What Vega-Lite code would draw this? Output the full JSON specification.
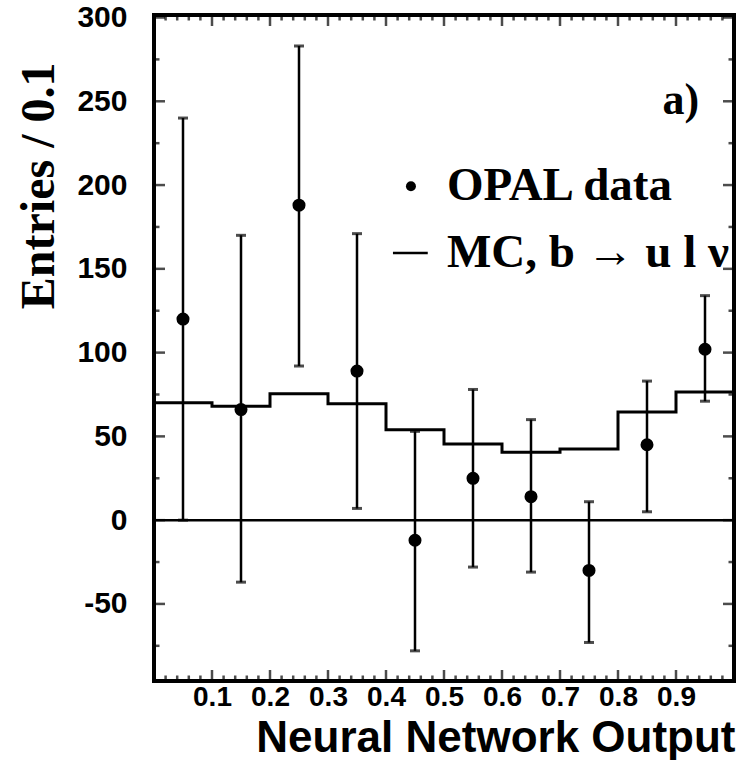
{
  "$schema": "https://vega.github.io/schema/vega-lite/v6.json",
  "width": 580,
  "height": 666,
  "autosize": {"type": "none"},
  "padding": {"left": 154, "top": 15, "right": 12, "bottom": 79},
  "background": "white",
  "config": {
    "view": {"stroke": "black", "strokeWidth": 4},
    "axis": {"domain": false, "grid": false, "ticks": false, "tickSize": 0, "labelColor": "black", "titleColor": "black"}
  },
  "datasets": {
    "mc": [
      {"nn": 0.0, "entries": 70},
      {"nn": 0.1, "entries": 68},
      {"nn": 0.2, "entries": 75.5},
      {"nn": 0.3, "entries": 69.5},
      {"nn": 0.4, "entries": 54},
      {"nn": 0.5, "entries": 45.5},
      {"nn": 0.6, "entries": 40.5},
      {"nn": 0.7, "entries": 42.5},
      {"nn": 0.8, "entries": 64.5},
      {"nn": 0.9, "entries": 76.5},
      {"nn": 1.0, "entries": 76.5}
    ],
    "pts": [
      {"nn": 0.05, "entries": 120, "lo": 0, "hi": 240},
      {"nn": 0.15, "entries": 66, "lo": -37, "hi": 170},
      {"nn": 0.25, "entries": 188, "lo": 92, "hi": 283},
      {"nn": 0.35, "entries": 89, "lo": 7, "hi": 171},
      {"nn": 0.45, "entries": -12, "lo": -78, "hi": 53},
      {"nn": 0.55, "entries": 25, "lo": -28, "hi": 78},
      {"nn": 0.65, "entries": 14, "lo": -31, "hi": 60},
      {"nn": 0.75, "entries": -30, "lo": -73, "hi": 11},
      {"nn": 0.85, "entries": 45, "lo": 5, "hi": 83},
      {"nn": 0.95, "entries": 102, "lo": 71, "hi": 134}
    ],
    "xt": [
      {"v": 0.02, "kind": "minor"}, {"v": 0.04, "kind": "minor"}, {"v": 0.06, "kind": "minor"}, {"v": 0.08, "kind": "minor"}, {"v": 0.1, "kind": "major"},
      {"v": 0.12, "kind": "minor"}, {"v": 0.14, "kind": "minor"}, {"v": 0.16, "kind": "minor"}, {"v": 0.18, "kind": "minor"}, {"v": 0.2, "kind": "major"},
      {"v": 0.22, "kind": "minor"}, {"v": 0.24, "kind": "minor"}, {"v": 0.26, "kind": "minor"}, {"v": 0.28, "kind": "minor"}, {"v": 0.3, "kind": "major"},
      {"v": 0.32, "kind": "minor"}, {"v": 0.34, "kind": "minor"}, {"v": 0.36, "kind": "minor"}, {"v": 0.38, "kind": "minor"}, {"v": 0.4, "kind": "major"},
      {"v": 0.42, "kind": "minor"}, {"v": 0.44, "kind": "minor"}, {"v": 0.46, "kind": "minor"}, {"v": 0.48, "kind": "minor"}, {"v": 0.5, "kind": "major"},
      {"v": 0.52, "kind": "minor"}, {"v": 0.54, "kind": "minor"}, {"v": 0.56, "kind": "minor"}, {"v": 0.58, "kind": "minor"}, {"v": 0.6, "kind": "major"},
      {"v": 0.62, "kind": "minor"}, {"v": 0.64, "kind": "minor"}, {"v": 0.66, "kind": "minor"}, {"v": 0.68, "kind": "minor"}, {"v": 0.7, "kind": "major"},
      {"v": 0.72, "kind": "minor"}, {"v": 0.74, "kind": "minor"}, {"v": 0.76, "kind": "minor"}, {"v": 0.78, "kind": "minor"}, {"v": 0.8, "kind": "major"},
      {"v": 0.82, "kind": "minor"}, {"v": 0.84, "kind": "minor"}, {"v": 0.86, "kind": "minor"}, {"v": 0.88, "kind": "minor"}, {"v": 0.9, "kind": "major"},
      {"v": 0.92, "kind": "minor"}, {"v": 0.94, "kind": "minor"}, {"v": 0.96, "kind": "minor"}, {"v": 0.98, "kind": "minor"}
    ],
    "yt": [
      {"v": -75, "kind": "minor"}, {"v": -50, "kind": "major"}, {"v": -25, "kind": "minor"}, {"v": 0, "kind": "major"},
      {"v": 25, "kind": "minor"}, {"v": 50, "kind": "major"}, {"v": 75, "kind": "minor"}, {"v": 100, "kind": "major"},
      {"v": 125, "kind": "minor"}, {"v": 150, "kind": "major"}, {"v": 175, "kind": "minor"}, {"v": 200, "kind": "major"},
      {"v": 225, "kind": "minor"}, {"v": 250, "kind": "major"}, {"v": 275, "kind": "minor"}, {"v": 300, "kind": "major"}
    ]
  },
  "layer": [
    {
      "data": {"name": "mc"},
      "mark": {"type": "line", "interpolate": "step-after", "color": "black", "strokeWidth": 3},
      "encoding": {
        "x": {
          "field": "nn", "type": "quantitative",
          "scale": {"domain": [0, 1], "nice": false, "zero": false},
          "axis": {
            "orient": "bottom",
            "values": [0.1,0.2,0.3,0.4,0.5,0.6,0.7,0.8,0.9],
            "format": ".1f",
            "labelFont": "Liberation Sans", "labelFontWeight": "bold", "labelFontSize": 28,
            "labelPadding": 2, "labelBaseline": "top", "labelFlush": false, "labelOverlap": false,
            "title": "Neural Network Output",
            "titleFont": "Liberation Sans", "titleFontWeight": "bold", "titleFontSize": 44,
            "titleAnchor": "end", "titleAlign": "right", "titleX": 581, "titleY": 70, "titleBaseline": "alphabetic"
          }
        },
        "y": {
          "field": "entries", "type": "quantitative",
          "scale": {"domain": [-96, 301.5], "nice": false, "zero": false},
          "axis": {
            "orient": "left",
            "values": [-50,0,50,100,150,200,250,300],
            "labelExpr": "replace(datum.label, '\u2212', '-')",
            "labelFont": "Liberation Sans", "labelFontWeight": "bold", "labelFontSize": 30,
            "labelPadding": 27, "labelFlush": false, "labelOverlap": false,
            "title": "Entries / 0.1",
            "titleFont": "Liberation Serif", "titleFontWeight": "bold", "titleFontSize": 48,
            "titleAngle": 270, "titleAlign": "right", "titleBaseline": "alphabetic", "titleX": -101, "titleY": 47
          }
        }
      }
    },
    {
      "data": {"name": "xt"},
      "mark": {"type": "tick", "orient": "vertical", "color": "black", "thickness": 2.5, "clip": true},
      "encoding": {
        "x": {"field": "v", "type": "quantitative", "scale": {"domain": [0, 1], "nice": false, "zero": false}},
        "y": {"datum": -96, "type": "quantitative", "scale": {"domain": [-96, 301.5], "nice": false, "zero": false}},
        "size": {"field": "kind", "type": "nominal", "scale": {"domain": ["major", "minor"], "range": [22, 11]}, "legend": null}
      }
    },
    {
      "data": {"name": "xt"},
      "mark": {"type": "tick", "orient": "vertical", "color": "black", "thickness": 2.5, "clip": true},
      "encoding": {
        "x": {"field": "v", "type": "quantitative", "scale": {"domain": [0, 1], "nice": false, "zero": false}},
        "y": {"datum": 301.5, "type": "quantitative", "scale": {"domain": [-96, 301.5], "nice": false, "zero": false}},
        "size": {"field": "kind", "type": "nominal", "scale": {"domain": ["major", "minor"], "range": [22, 11]}, "legend": null}
      }
    },
    {
      "data": {"name": "yt"},
      "mark": {"type": "tick", "orient": "horizontal", "color": "black", "thickness": 2.5, "clip": true},
      "encoding": {
        "y": {"field": "v", "type": "quantitative", "scale": {"domain": [-96, 301.5], "nice": false, "zero": false}},
        "x": {"datum": 0, "type": "quantitative", "scale": {"domain": [0, 1], "nice": false, "zero": false}},
        "size": {"field": "kind", "type": "nominal", "scale": {"domain": ["major", "minor"], "range": [22, 11]}, "legend": null}
      }
    },
    {
      "data": {"name": "yt"},
      "mark": {"type": "tick", "orient": "horizontal", "color": "black", "thickness": 2.5, "clip": true},
      "encoding": {
        "y": {"field": "v", "type": "quantitative", "scale": {"domain": [-96, 301.5], "nice": false, "zero": false}},
        "x": {"datum": 1, "type": "quantitative", "scale": {"domain": [0, 1], "nice": false, "zero": false}},
        "size": {"field": "kind", "type": "nominal", "scale": {"domain": ["major", "minor"], "range": [22, 11]}, "legend": null}
      }
    },
    {
      "data": {"name": "pts"},
      "mark": {"type": "rule", "color": "black", "strokeWidth": 2.5},
      "encoding": {
        "x": {"field": "nn", "type": "quantitative", "scale": {"domain": [0, 1], "nice": false, "zero": false}},
        "y": {"field": "lo", "type": "quantitative", "scale": {"domain": [-96, 301.5], "nice": false, "zero": false}},
        "y2": {"field": "hi"}
      }
    },
    {
      "data": {"values": [{"entries": 0}]},
      "mark": {"type": "rule", "color": "black", "strokeWidth": 2.5},
      "encoding": {
        "y": {"field": "entries", "type": "quantitative", "scale": {"domain": [-96, 301.5], "nice": false, "zero": false}}
      }
    },
    {
      "data": {"name": "pts"},
      "mark": {"type": "tick", "orient": "horizontal", "color": "black", "size": 10, "thickness": 3},
      "encoding": {
        "x": {"field": "nn", "type": "quantitative", "scale": {"domain": [0, 1], "nice": false, "zero": false}},
        "y": {"field": "lo", "type": "quantitative", "scale": {"domain": [-96, 301.5], "nice": false, "zero": false}}
      }
    },
    {
      "data": {"name": "pts"},
      "mark": {"type": "tick", "orient": "horizontal", "color": "black", "size": 10, "thickness": 3},
      "encoding": {
        "x": {"field": "nn", "type": "quantitative", "scale": {"domain": [0, 1], "nice": false, "zero": false}},
        "y": {"field": "hi", "type": "quantitative", "scale": {"domain": [-96, 301.5], "nice": false, "zero": false}}
      }
    },
    {
      "data": {"name": "pts"},
      "mark": {"type": "point", "shape": "circle", "filled": true, "color": "black", "opacity": 1, "size": 170},
      "encoding": {
        "x": {"field": "nn", "type": "quantitative", "scale": {"domain": [0, 1], "nice": false, "zero": false}},
        "y": {"field": "entries", "type": "quantitative", "scale": {"domain": [-96, 301.5], "nice": false, "zero": false}}
      }
    },
    {
      "data": {"values": [{"series": "OPAL data"}]},
      "mark": {"type": "point", "shape": "circle", "filled": true, "color": "black", "opacity": 1, "size": 100},
      "encoding": {
        "x": {"datum": 0.443, "type": "quantitative", "scale": {"domain": [0, 1], "nice": false, "zero": false}},
        "y": {"datum": 199.3, "type": "quantitative", "scale": {"domain": [-96, 301.5], "nice": false, "zero": false}}
      }
    },
    {
      "data": {"values": [{"series": "MC"}]},
      "mark": {"type": "rule", "color": "black", "strokeWidth": 2.5},
      "encoding": {
        "x": {"datum": 0.412, "type": "quantitative", "scale": {"domain": [0, 1], "nice": false, "zero": false}},
        "x2": {"datum": 0.472},
        "y": {"datum": 159.4, "type": "quantitative", "scale": {"domain": [-96, 301.5], "nice": false, "zero": false}}
      }
    },
    {
      "data": {"values": [{"label": "OPAL data"}]},
      "mark": {"type": "text", "align": "left", "baseline": "middle", "font": "Liberation Serif", "fontWeight": "bold", "fontSize": 47, "color": "black"},
      "encoding": {
        "text": {"field": "label"},
        "x": {"datum": 0.505, "type": "quantitative", "scale": {"domain": [0, 1], "nice": false, "zero": false}},
        "y": {"datum": 199.3, "type": "quantitative", "scale": {"domain": [-96, 301.5], "nice": false, "zero": false}}
      }
    },
    {
      "data": {"values": [{"label": "MC,  b → u l ν"}]},
      "mark": {"type": "text", "align": "left", "baseline": "middle", "font": "Liberation Serif", "fontWeight": "bold", "fontSize": 47, "color": "black"},
      "encoding": {
        "text": {"field": "label"},
        "x": {"datum": 0.505, "type": "quantitative", "scale": {"domain": [0, 1], "nice": false, "zero": false}},
        "y": {"datum": 159.4, "type": "quantitative", "scale": {"domain": [-96, 301.5], "nice": false, "zero": false}}
      }
    },
    {
      "data": {"values": [{"label": "a)"}]},
      "mark": {"type": "text", "align": "right", "baseline": "middle", "font": "Liberation Serif", "fontWeight": "bold", "fontSize": 44, "color": "black"},
      "encoding": {
        "text": {"field": "label"},
        "x": {"datum": 0.94, "type": "quantitative", "scale": {"domain": [0, 1], "nice": false, "zero": false}},
        "y": {"datum": 250, "type": "quantitative", "scale": {"domain": [-96, 301.5], "nice": false, "zero": false}}
      }
    }
  ]
}
